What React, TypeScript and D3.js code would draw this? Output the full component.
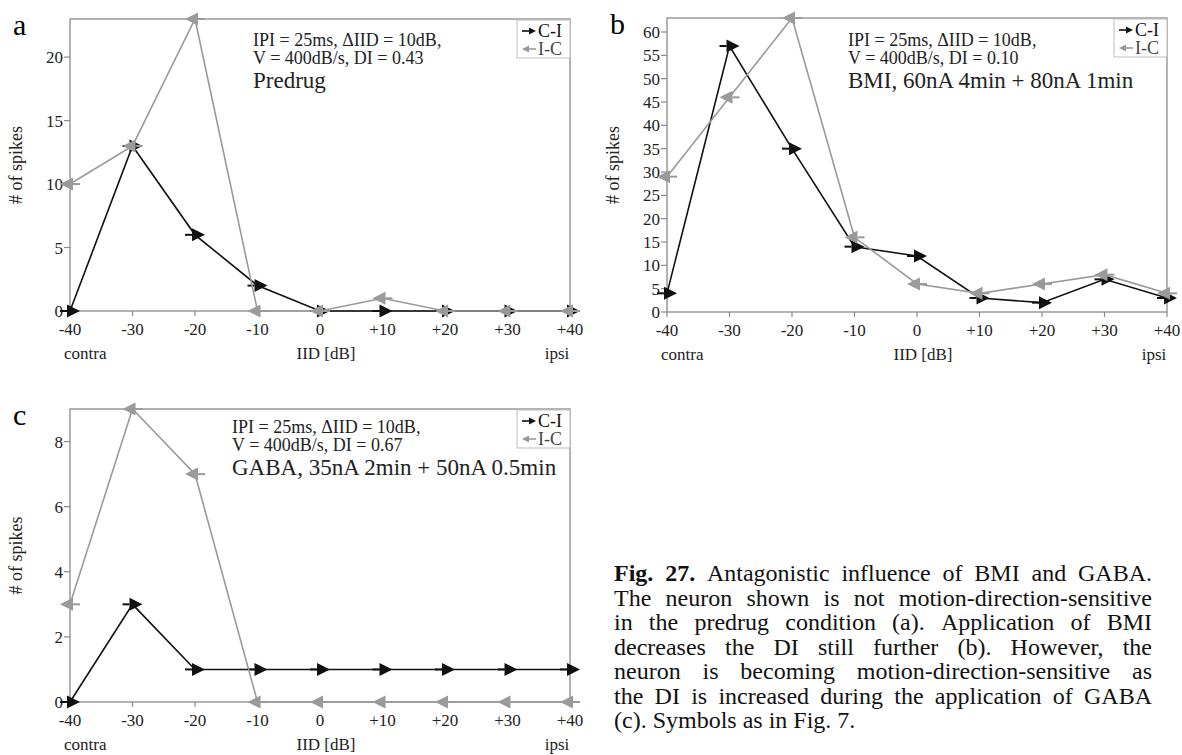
import React from "react";
import * as d3 from "d3";

// Interaural intensity difference steps (dB) and their printed labels
const iid = [-40, -30, -20, -10, 0, 10, 20, 30, 40];
const iidLabels = ["-40", "-30", "-20", "-10", "0", "+10", "+20", "+30", "+40"];

// Spike counts per IID step, contra→ipsi (C-I) and ipsi→contra (I-C)
const predrugCI = [0, 13, 6, 2, 0, 0, 0, 0, 0];
const predrugIC = [10, 13, 23, 0, 0, 1, 0, 0, 0];
const bmiCI = [4, 57, 35, 14, 12, 3, 2, 7, 3];
const bmiIC = [29, 46, 63, 16, 6, 4, 6, 8, 4];
const gabaCI = [0, 3, 1, 1, 1, 1, 1, 1, 1];
const gabaIC = [3, 9, 7, 0, 0, 0, 0, 0, 0];

// Y tick values per panel
const predrugTicks = [0, 5, 10, 15, 20];
const bmiTicks = [0, 5, 10, 15, 20, 25, 30, 35, 40, 45, 50, 55, 60];
const gabaTicks = [0, 2, 4, 6, 8];

const SERIF = "'Liberation Serif', 'Times New Roman', serif";
const CI_COLOR = "#111";
const IC_COLOR = "#9a9a9a";
const AXIS_COLOR = "#8a8a8a";

type PanelCfg = {
  letter: string;
  left: number;
  right: number;
  top: number;
  bottom: number;
  yMax: number;
  ticks: number[];
  ci: number[];
  ic: number[];
  params: [string, string];
  condition: string;
  textX: number;
  textY: number;
};

const panels: PanelCfg[] = [
  {
    letter: "a", left: 70, right: 570, top: 19, bottom: 311, yMax: 23,
    ticks: predrugTicks, ci: predrugCI, ic: predrugIC,
    params: ["IPI = 25ms, \u0394IID = 10dB,", "V = 400dB/s, DI = 0.43"],
    condition: "Predrug", textX: 253, textY: 46,
  },
  {
    letter: "b", left: 667, right: 1167, top: 18, bottom: 312, yMax: 63,
    ticks: bmiTicks, ci: bmiCI, ic: bmiIC,
    params: ["IPI = 25ms, \u0394IID = 10dB,", "V = 400dB/s, DI = 0.10"],
    condition: "BMI, 60nA 4min + 80nA 1min", textX: 848, textY: 46,
  },
  {
    letter: "c", left: 70, right: 570, top: 409, bottom: 702, yMax: 9,
    ticks: gabaTicks, ci: gabaCI, ic: gabaIC,
    params: ["IPI = 25ms, \u0394IID = 10dB,", "V = 400dB/s, DI = 0.67"],
    condition: "GABA, 35nA 2min + 50nA 0.5min", textX: 232, textY: 433,
  },
];

// Arrow-shaped point markers: head plus a short tail
const rightMarkerHead = "M-3,-6.5L10,0L-3,6.5Z";
const leftMarkerHead = "M3,-6.5L-10,0L3,6.5Z";

function Marker({ cx, cy, dir, color }: { cx: number; cy: number; dir: 1 | -1; color: string }) {
  return (
    <g transform={`translate(${cx},${cy})`}>
      <line x1={-10 * dir} x2={-3 * dir} y1={0} y2={0} stroke={color} strokeWidth={2} />
      <path d={dir === 1 ? rightMarkerHead : leftMarkerHead} fill={color} />
    </g>
  );
}

function LegendArrow({ x1, x2, y, color }: { x1: number; x2: number; y: number; color: string }) {
  const dir = x2 > x1 ? 1 : -1;
  return (
    <g>
      <line x1={x1} x2={x2 - dir * 4} y1={y} y2={y} stroke={color} strokeWidth={1.6} />
      <path d={`M${x2},${y}L${x2 - dir * 7},${y - 3.5}L${x2 - dir * 7},${y + 3.5}Z`} fill={color} />
    </g>
  );
}

function Panel({ cfg }: { cfg: PanelCfg }) {
  const x = d3.scaleLinear().domain([-40, 40]).range([cfg.left, cfg.right]);
  const y = d3.scaleLinear().domain([0, cfg.yMax]).range([cfg.bottom, cfg.top]);
  const line = d3
    .line<number>()
    .x((_, i) => x(iid[i]))
    .y((d) => y(d));
  const midY = (cfg.top + cfg.bottom) / 2;
  const lgX = cfg.right - 53;
  const lgY = cfg.top + 1;

  return (
    <g fontFamily={SERIF}>
      <text x={cfg.left - 57} y={cfg.top + 16} fontSize={30}>{cfg.letter}</text>

      {/* plot frame */}
      <rect x={cfg.left} y={cfg.top} width={cfg.right - cfg.left} height={cfg.bottom - cfg.top}
        fill="none" stroke={AXIS_COLOR} strokeWidth={1.3} />

      {/* y axis ticks */}
      {cfg.ticks.map((t) => (
        <g key={`y${t}`}>
          <line x1={cfg.left - 6} x2={cfg.left} y1={y(t)} y2={y(t)} stroke={AXIS_COLOR} strokeWidth={1.2} />
          <text x={cfg.left - 7} y={y(t) + 6} textAnchor="end" fontSize={17} fill="#222">{t}</text>
        </g>
      ))}

      {/* x axis ticks */}
      {iid.map((v, i) => (
        <g key={`x${v}`}>
          <line x1={x(v)} x2={x(v)} y1={cfg.bottom} y2={cfg.bottom + 5} stroke={AXIS_COLOR} strokeWidth={1.2} />
          <text x={x(v)} y={cfg.bottom + 24} textAnchor="middle" fontSize={17} fill="#222">{iidLabels[i]}</text>
        </g>
      ))}

      <text x={cfg.left - 6} y={cfg.bottom + 48} fontSize={17} fill="#222">contra</text>
      <text x={x(0) + 6} y={cfg.bottom + 48} textAnchor="middle" fontSize={17} fill="#222">IID [dB]</text>
      <text x={cfg.right - 13} y={cfg.bottom + 48} textAnchor="middle" fontSize={17} fill="#222">ipsi</text>

      <text transform={`translate(${cfg.left - 48},${midY}) rotate(-90)`} textAnchor="middle" fontSize={18} fill="#222">
        # of spikes
      </text>

      {/* series */}
      <path d={line(cfg.ci) ?? ""} fill="none" stroke={CI_COLOR} strokeWidth={1.6} />
      {cfg.ci.map((d, i) => (
        <Marker key={`ci${i}`} cx={x(iid[i])} cy={y(d)} dir={1} color={CI_COLOR} />
      ))}
      <path d={line(cfg.ic) ?? ""} fill="none" stroke={IC_COLOR} strokeWidth={1.6} />
      {cfg.ic.map((d, i) => (
        <Marker key={`ic${i}`} cx={x(iid[i])} cy={y(d)} dir={-1} color={IC_COLOR} />
      ))}

      {/* stimulus parameters */}
      <text x={cfg.textX} y={cfg.textY} fontSize={18} fill="#222">{cfg.params[0]}</text>
      <text x={cfg.textX} y={cfg.textY + 18} fontSize={18} fill="#222">{cfg.params[1]}</text>
      <text x={cfg.textX} y={cfg.textY + 42} fontSize={23} fill="#222">{cfg.condition}</text>

      {/* legend */}
      <rect x={lgX} y={lgY} width={cfg.right - lgX} height={38} fill="#fff" stroke="#bdbdbd" strokeWidth={1} />
      <LegendArrow x1={lgX + 5} x2={lgX + 19} y={lgY + 11} color={CI_COLOR} />
      <text x={lgX + 21} y={lgY + 17} fontSize={18} fill="#111">C-I</text>
      <LegendArrow x1={lgX + 19} x2={lgX + 5} y={lgY + 29} color={IC_COLOR} />
      <text x={lgX + 21} y={lgY + 35} fontSize={18} fill="#444">I-C</text>
    </g>
  );
}

// Figure caption, justified except for its last line
const captionLines: { text: string; bold?: string }[] = [
  { bold: "Fig. 27.", text: "Antagonistic influence of BMI and GABA." },
  { text: "The neuron shown is not motion-direction-sensitive" },
  { text: "in the predrug condition (a). Application of BMI" },
  { text: "decreases the DI still further (b). However, the" },
  { text: "neuron is becoming motion-direction-sensitive as" },
  { text: "the DI is increased during the application of GABA" },
  { text: "(c). Symbols as in Fig. 7." },
];

const CAP_LEFT = 614;
const CAP_RIGHT = 1152;
const CAP_TOP = 581;
const CAP_STEP = 24.5;
const CAP_SIZE = 24;

const measureCanvas = typeof document !== "undefined" ? document.createElement("canvas") : null;
function measure(word: string, bold: boolean): number {
  const ctx = measureCanvas!.getContext("2d")!;
  ctx.font = `${bold ? "bold " : ""}${CAP_SIZE}px 'Liberation Serif', 'Times New Roman', serif`;
  return ctx.measureText(word).width;
}

function Caption() {
  return (
    <g fontFamily={SERIF} fontSize={CAP_SIZE} fill="#111">
      {captionLines.map((ln, li) => {
        const words: { w: string; b: boolean }[] = [];
        if (ln.bold) ln.bold.split(" ").forEach((w) => words.push({ w, b: true }));
        ln.text.split(" ").forEach((w) => words.push({ w, b: false }));
        const widths = words.map((o) => measure(o.w, o.b));
        const total = widths.reduce((a, b) => a + b, 0);
        const last = li === captionLines.length - 1;
        const space = measure(" ", false);
        const gap = last ? space : (CAP_RIGHT - CAP_LEFT - total) / (words.length - 1);
        let cx = CAP_LEFT;
        const yy = CAP_TOP + li * CAP_STEP;
        return (
          <g key={li}>
            {words.map((o, i) => {
              const el = (
                <text key={i} x={cx} y={yy} fontWeight={o.b ? "bold" : "normal"}>{o.w}</text>
              );
              cx += widths[i] + gap;
              return el;
            })}
          </g>
        );
      })}
    </g>
  );
}

export default function App() {
  return (
    <svg width={1182} height={755} style={{ position: "absolute", left: 0, top: 0, background: "#fff" }}>
      <rect width={1182} height={755} fill="#fff" />
      {panels.map((p) => (
        <Panel key={p.letter} cfg={p} />
      ))}
      <Caption />
    </svg>
  );
}
